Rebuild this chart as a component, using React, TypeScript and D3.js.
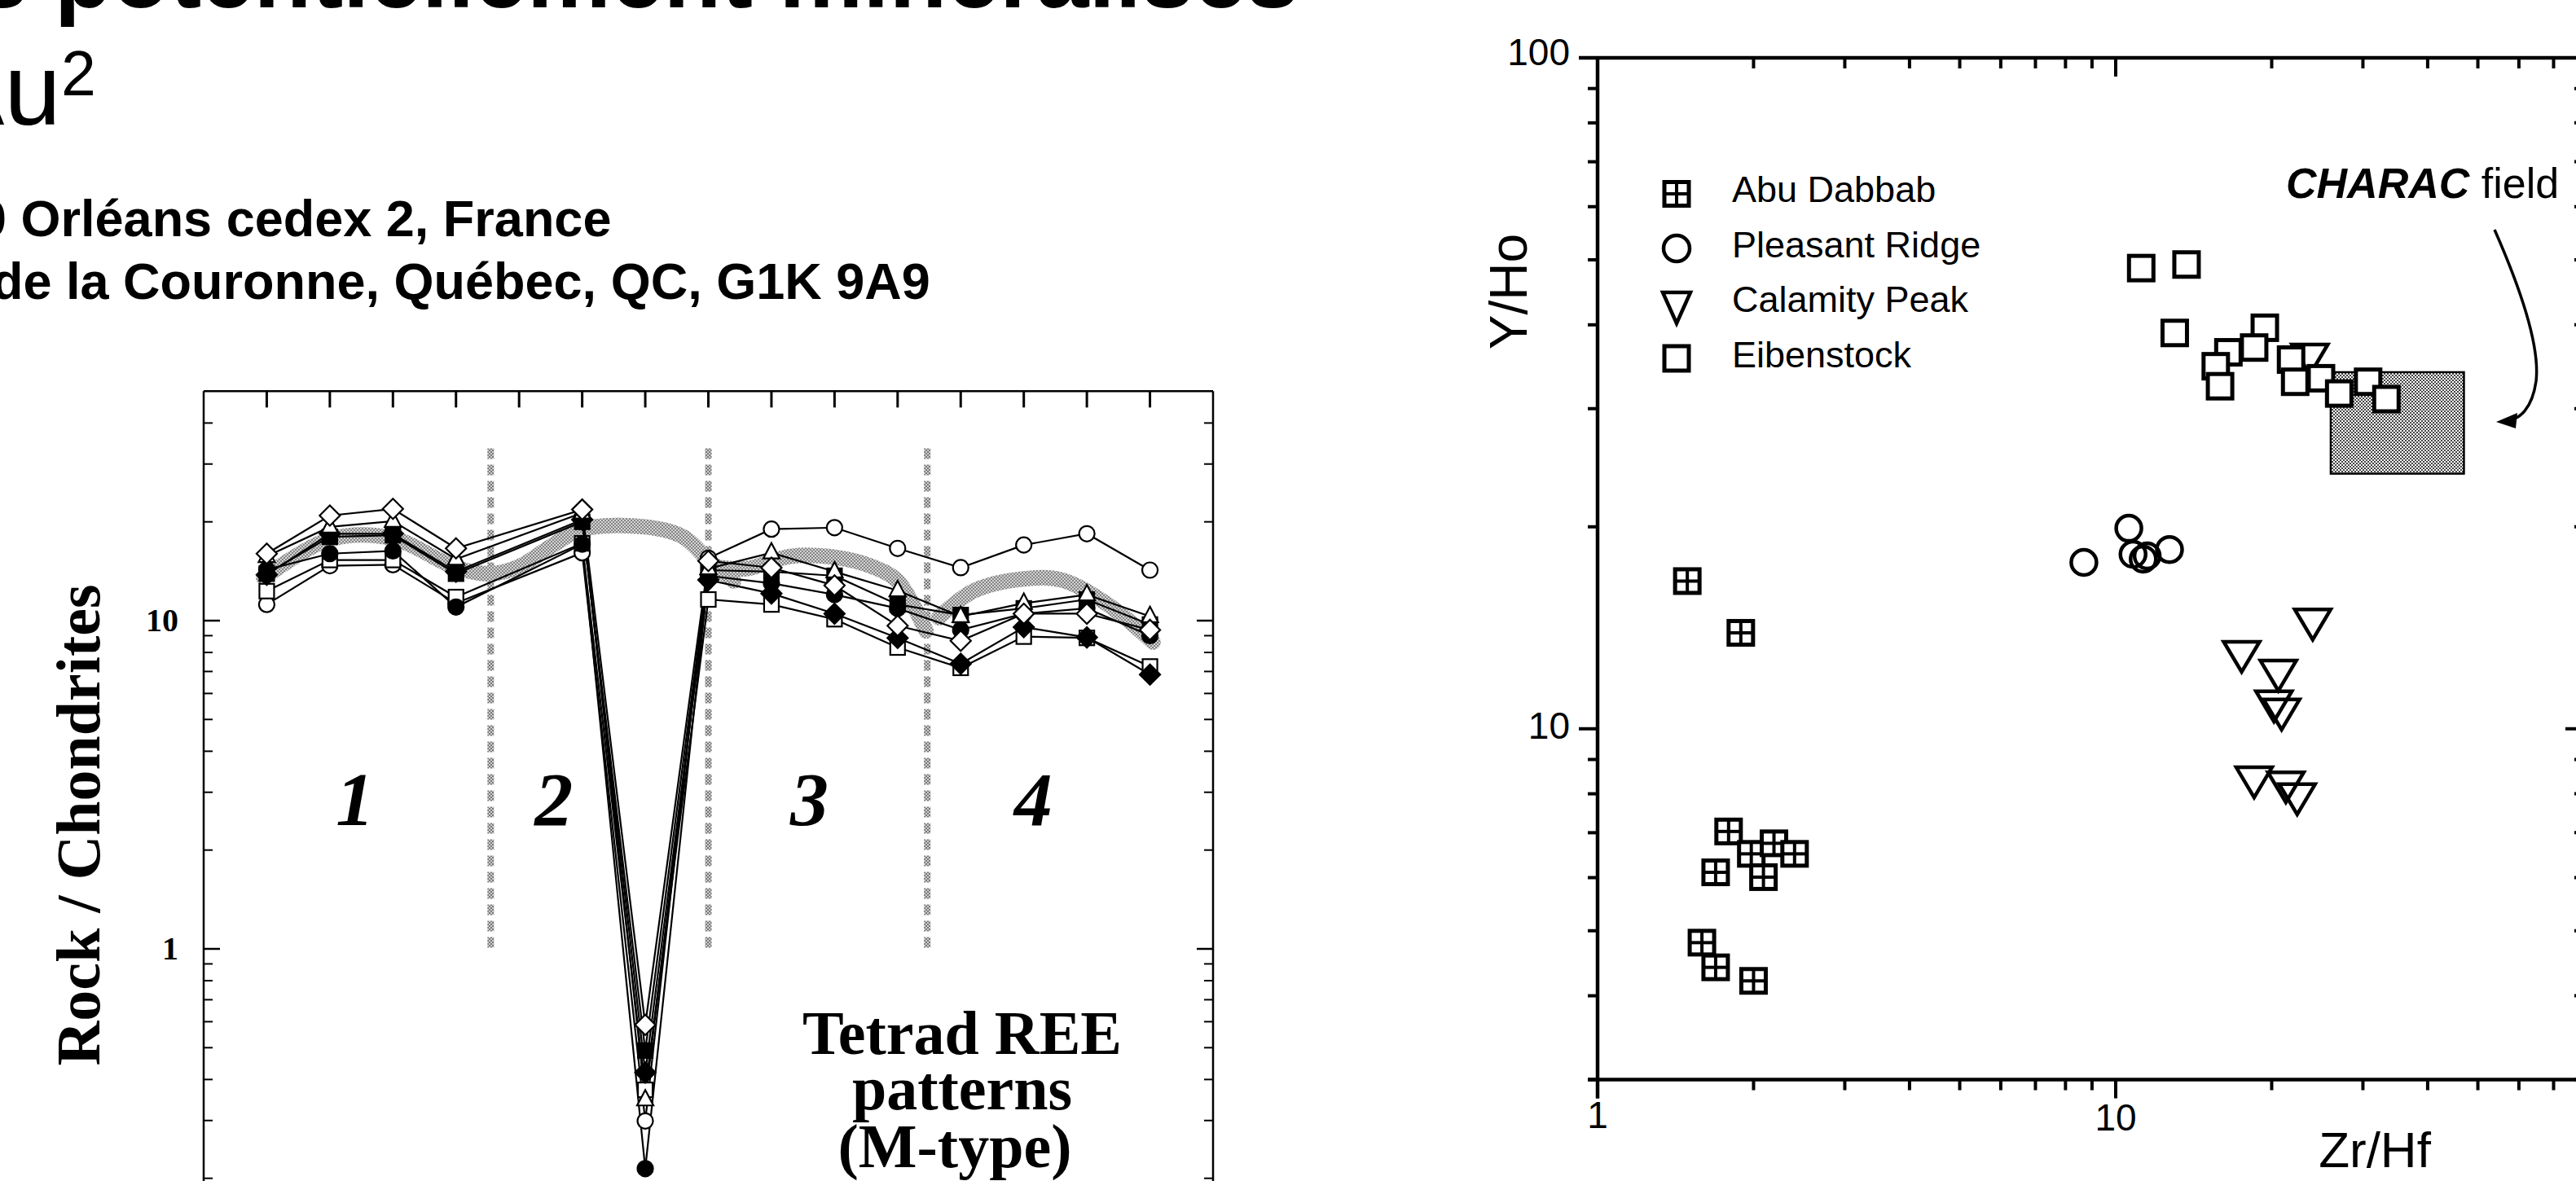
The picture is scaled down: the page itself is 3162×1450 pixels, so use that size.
import React from "react";
import * as d3 from "d3";

// ---------------- Left chart data (REE / chondrite) ----------------
const REE = ["La", "Ce", "Pr", "Nd", "Pm", "Sm", "Eu", "Gd", "Tb", "Dy", "Ho", "Er", "Tm", "Yb", "Lu"];
const openDiamond = [16.0, 20.9, 21.9, 16.6, null, 21.8, 0.587, 15.2, 14.5, 12.8, 9.65, 8.68, 10.5, 10.5, 9.37];
const openTriangle = [15.7, 19.3, 20.1, 15.4, null, 21.3, 0.347, 14.4, 16.1, 14.1, 12.35, 10.3, 11.3, 12.0, 10.3];
const filledDiamond = [13.8, 18.4, 18.4, 14.1, null, 20.3, 0.42, 13.3, 12.1, 10.5, 8.86, 7.39, 9.55, 8.89, 6.85];
const filledCircle = [14.3, 16.0, 16.3, 11.0, null, 17.1, 0.214, 13.7, 13.0, 12.0, 10.9, 9.37, 10.5, 10.9, 9.0];
const filledSquare = [13.9, 18.0, 18.2, 13.9, null, 20.0, 0.49, 14.25, 14.1, 13.7, 11.2, 10.4, 10.9, 11.6, 9.73];
const openSquare = [12.3, 15.3, 15.3, 11.8, null, 17.2, 0.372, 11.6, 11.2, 10.1, 8.28, 7.18, 8.94, 8.86, 7.25];
const openCircle = [11.2, 14.7, 14.8, 11.3, null, 16.1, 0.299, 15.5, 19.0, 19.2, 16.6, 14.5, 17.0, 18.4, 14.25];

// grey tetrad curves (REE index, value)
const tetradBand1 = [[-0.05, 13.5], [1, 17.7], [2, 17.8], [3, 14.5], [3.55, 13.9], [4.0, 14.6], [4.5, 16.8], [5, 19.0], [6, 19.3], [6.6, 18.0], [7, 15.3], [7.4, 13.2]];
const tetradBand3 = [[7.1, 14.6], [7.6, 14.4], [8.3, 15.7], [9.0, 15.6], [9.6, 14.6], [10.0, 13.2], [10.45, 9.3]];
const tetradBand4 = [[10.65, 10.2], [11.2, 12.3], [12.0, 13.4], [12.6, 13.3], [13.3, 11.3], [14.05, 8.6]];
const tetradBoundaries = [3.55, 7.0, 10.47];
const tetradLabels = ["1", "2", "3", "4"];
const tetradLabelPos = [1.4, 4.55, 8.6, 12.15];
const leftMajorTicks = [1, 10];
const leftMinorTicks = [0.2, 0.3, 0.4, 0.5, 0.6, 0.7, 0.8, 0.9, 2, 3, 4, 5, 6, 7, 8, 9, 20, 30, 40];

// ---------------- Right chart data (Zr/Hf vs Y/Ho) ----------------
const abuDabbab = [[1.49, 16.6], [1.89, 13.9], [1.79, 7.03], [1.98, 6.51], [2.19, 6.75], [2.40, 6.51], [1.69, 6.11], [2.09, 6.01], [1.59, 4.80], [1.69, 4.41], [2.00, 4.21]];
const pleasantRidge = [[8.68, 17.7], [10.6, 19.9], [10.8, 18.2], [11.5, 18.1], [11.3, 17.9], [12.7, 18.5]];
const calamityPeak = [[23.7, 35.5], [24.0, 14.3], [17.5, 12.8], [20.6, 12.0], [20.2, 10.8], [20.9, 10.5], [18.5, 8.32], [21.3, 8.18], [22.4, 7.85]];
const eibenstock = [[11.2, 48.6], [13.7, 49.2], [13.0, 38.9], [19.4, 39.6], [18.5, 37.0], [16.5, 36.4], [15.6, 34.7], [15.9, 32.4], [21.8, 35.5], [22.2, 32.9], [24.9, 33.3], [27.0, 31.6], [30.7, 32.9], [33.3, 31.0]];
const characZrHf = [26, 47];
const characYHo = [24, 34];
const legendNames = ["Abu Dabbab", "Pleasant Ridge", "Calamity Peak", "Eibenstock"];
const rightXTicks = [1, 2, 3, 4, 5, 6, 7, 8, 9, 10, 20, 30, 40, 50, 60, 70];
const rightYTicks = [3, 4, 5, 6, 7, 8, 9, 10, 20, 30, 40, 50, 60, 70, 80, 90, 100];
const rightMajor = [1, 10, 100];

const SANS = "'Liberation Sans', Arial, sans-serif";
const SERIF = "'Liberation Serif', 'Times New Roman', serif";

function LeftMarker({ kind, x, y }: { kind: string; x: number; y: number }) {
  const sw = 2.2;
  switch (kind) {
    case "oc":
      return <circle cx={x} cy={y} r={9.5} fill="#fff" stroke="#000" strokeWidth={sw} />;
    case "fc":
      return <circle cx={x} cy={y} r={9.5} fill="#000" stroke="#000" strokeWidth={sw} />;
    case "os":
      return <rect x={x - 9} y={y - 9} width={18} height={18} fill="#fff" stroke="#000" strokeWidth={sw} />;
    case "fs":
      return <rect x={x - 9} y={y - 9} width={18} height={18} fill="#000" stroke="#000" strokeWidth={sw} />;
    case "ot":
      return <polygon points={`${x},${y - 12} ${x + 10},${y + 7} ${x - 10},${y + 7}`} fill="#fff" stroke="#000" strokeWidth={sw} />;
    case "od":
      return <polygon points={`${x},${y - 12.5} ${x + 12.5},${y} ${x},${y + 12.5} ${x - 12.5},${y}`} fill="#fff" stroke="#000" strokeWidth={sw} />;
    default:
      return <polygon points={`${x},${y - 12.5} ${x + 12.5},${y} ${x},${y + 12.5} ${x - 12.5},${y}`} fill="#000" stroke="#000" strokeWidth={sw} />;
  }
}

export default function App() {
  // Left chart scales
  const lx = d3.scaleLinear().domain([-1, 15]).range([250, 1489]);
  const ly = d3.scaleLog().domain([1, 10]).range([1165, 762]);
  const lTop = ly(50);
  const lLeft = lx(-1);
  const lRight = lx(15);

  const series: { kind: string; vals: (number | null)[] }[] = [
    { kind: "oc", vals: openCircle },
    { kind: "os", vals: openSquare },
    { kind: "fc", vals: filledCircle },
    { kind: "fs", vals: filledSquare },
    { kind: "fd", vals: filledDiamond },
    { kind: "ot", vals: openTriangle },
    { kind: "od", vals: openDiamond },
  ];
  const lineGen = d3
    .line<[number, number]>()
    .x((d) => lx(d[0]))
    .y((d) => ly(d[1]));
  const bandGen = d3
    .line<number[]>()
    .x((d) => lx(d[0]))
    .y((d) => ly(d[1]))
    .curve(d3.curveCatmullRom.alpha(0.5));

  // Right chart scales
  const rx = d3.scaleLog().domain([1, 10]).range([1961, 2597]);
  const ry = d3.scaleLog().domain([3, 100]).range([1325.5, 71]);
  const rLeft = rx(1);
  const rRight = 3172;
  const rTop = ry(100);
  const rBottom = ry(3);

  const cx0 = rx(characZrHf[0]);
  const cx1 = rx(characZrHf[1]);
  const cy0 = ry(characYHo[1]);
  const cy1 = ry(characYHo[0]);

  const legendX = 2058;
  const legendY = [238, 305, 372, 440];

  const abuMarker = (x: number, y: number, k: string) => (
    <g key={k}>
      <rect x={x - 15} y={y - 14.5} width={30} height={29} fill="#fff" stroke="#000" strokeWidth={5} />
      <line x1={x} x2={x} y1={y - 14.5} y2={y + 14.5} stroke="#000" strokeWidth={4} />
      <line x1={x - 15} x2={x + 15} y1={y} y2={y} stroke="#000" strokeWidth={4} />
    </g>
  );
  const triMarker = (x: number, y: number, k: string, w = 44, h = 37) => (
    <polygon key={k} points={`${x - w / 2},${y - h / 2} ${x + w / 2},${y - h / 2} ${x},${y + h / 2}`} fill="none" stroke="#000" strokeWidth={4.5} strokeLinejoin="miter" />
  );
  const sqMarker = (x: number, y: number, k: string) => (
    <rect key={k} x={x - 15} y={y - 15} width={30} height={30} fill="#fff" stroke="#000" strokeWidth={5} />
  );
  const circMarker = (x: number, y: number, k: string) => (
    <circle key={k} cx={x} cy={y} r={15.5} fill="none" stroke="#000" strokeWidth={4.5} />
  );

  return (
    <div style={{ position: "fixed", left: 0, top: 0, width: 3162, height: 1450, background: "#fff" }}>
      <svg width={3162} height={1450} viewBox="0 0 3162 1450" style={{ display: "block" }}>
        <defs>
          <pattern id="stip" width={4} height={4} patternUnits="userSpaceOnUse">
            <rect width={4} height={4} fill="#d4d4d4" />
            <rect width={2} height={2} fill="#858585" />
            <rect x={2} y={2} width={2} height={2} fill="#858585" />
          </pattern>
          <pattern id="stipDark" width={4} height={4} patternUnits="userSpaceOnUse">
            <rect width={4} height={4} fill="#cfcfcf" />
            <rect width={2} height={2} fill="#777" />
            <rect x={2} y={2} width={2} height={2} fill="#777" />
          </pattern>
          <pattern id="charac" width={4} height={4} patternUnits="userSpaceOnUse">
            <rect width={4} height={4} fill="#ffffff" />
            <rect width={2} height={2} fill="#444" />
            <rect x={2} y={2} width={2} height={2} fill="#444" />
          </pattern>
        </defs>
        <rect width={3162} height={1450} fill="#fff" />

        {/* ---------- Title texts (cropped slide) ---------- */}
        <text x={-30} y={9} fontFamily={SANS} fontWeight="bold" fontSize={116} fill="#000">
          s potentiellement minéralisés
        </text>
        <text x={-78} y={153} fontFamily={SANS} fontSize={125} fill="#000">
          Au
          <tspan fontSize={77} dy={-36}>2</tspan>
        </text>
        <text x={-27} y={290} fontFamily={SANS} fontWeight="bold" fontSize={63} fill="#000">
          0 Orléans cedex 2, France
        </text>
        <text x={-10} y={367} fontFamily={SANS} fontWeight="bold" fontSize={63} fill="#000">
          de la Couronne, Québec, QC, G1K 9A9
        </text>

        {/* ---------- Left chart ---------- */}
        <g>
          {/* tetrad boundary dotted lines */}
          {tetradBoundaries.map((b, i) => (
            <line key={"tb" + i} x1={lx(b)} x2={lx(b)} y1={ly(33.5)} y2={ly(1.0)} stroke="url(#stipDark)" strokeWidth={8} strokeDasharray="13 7" />
          ))}
          {/* grey tetrad curves */}
          {[tetradBand1, tetradBand3, tetradBand4].map((b, i) => (
            <path key={"band" + i} d={bandGen(b) || ""} fill="none" stroke="url(#stip)" strokeWidth={19} strokeLinecap="round" />
          ))}
          {/* series lines */}
          {series.map((s, si) => {
            const pts = s.vals.map((v, i) => [i, v] as [number, number | null]).filter((p) => p[1] != null) as [number, number][];
            return <path key={"ln" + si} d={lineGen(pts) || ""} fill="none" stroke="#000" strokeWidth={2.2} />;
          })}
          {/* markers */}
          {series.map((s, si) =>
            s.vals.map((v, i) =>
              v == null ? null : <LeftMarker key={`m${si}-${i}`} kind={s.kind} x={lx(i)} y={ly(v)} />
            )
          )}
          {/* frame */}
          <line x1={lLeft} x2={lLeft} y1={lTop} y2={1460} stroke="#000" strokeWidth={2.5} />
          <line x1={lRight} x2={lRight} y1={lTop} y2={1460} stroke="#000" strokeWidth={2.5} />
          <line x1={lLeft} x2={lRight} y1={lTop} y2={lTop} stroke="#000" strokeWidth={2.5} />
          {/* top category ticks */}
          {REE.map((r, i) => (
            <line key={"tt" + r} x1={lx(i)} x2={lx(i)} y1={lTop} y2={lTop + 20} stroke="#000" strokeWidth={3} />
          ))}
          {/* y ticks */}
          {leftMajorTicks.map((t) => (
            <g key={"lmj" + t}>
              <line x1={lLeft} x2={lLeft + 20} y1={ly(t)} y2={ly(t)} stroke="#000" strokeWidth={2.5} />
              <line x1={lRight} x2={lRight - 20} y1={ly(t)} y2={ly(t)} stroke="#000" strokeWidth={2.5} />
              <text x={219} y={ly(t) + 13} textAnchor="end" fontFamily={SERIF} fontWeight="bold" fontSize={40} fill="#000">
                {t}
              </text>
            </g>
          ))}
          {leftMinorTicks.map((t) => (
            <g key={"lmn" + t}>
              <line x1={lLeft} x2={lLeft + 11} y1={ly(t)} y2={ly(t)} stroke="#000" strokeWidth={2} />
              <line x1={lRight} x2={lRight - 11} y1={ly(t)} y2={ly(t)} stroke="#000" strokeWidth={2} />
            </g>
          ))}
          <text transform="translate(122,1013) rotate(-90)" textAnchor="middle" fontFamily={SERIF} fontWeight="bold" fontSize={76} fill="#000">
            Rock / Chondrites
          </text>
          {tetradLabels.map((t, i) => (
            <text key={"tl" + t} x={lx(tetradLabelPos[i])} y={1013} textAnchor="middle" fontFamily={SERIF} fontWeight="bold" fontStyle="italic" fontSize={94} fill="#000">
              {t}
            </text>
          ))}
          <text x={1181} textAnchor="middle" fontFamily={SERIF} fontWeight="bold" fontSize={76} fill="#000">
            <tspan x={1181} y={1294}>Tetrad REE</tspan>
            <tspan x={1181} y={1362}>patterns</tspan>
            <tspan x={1172} y={1433}>(M-type)</tspan>
          </text>
        </g>

        {/* ---------- Right chart ---------- */}
        <g>
          {/* CHARAC field */}
          <rect x={cx0} y={cy0} width={cx1 - cx0} height={cy1 - cy0} fill="url(#charac)" stroke="#000" strokeWidth={2.5} />
          {/* arrow */}
          <path d="M3062,282 C3092,350 3118,425 3113,468 C3108,503 3092,514 3080,516" fill="none" stroke="#000" strokeWidth={3.5} />
          <polygon points="3064,518 3090,507 3088,526" fill="#000" />
          <text x={2806} y={243} fontFamily={SANS} fontSize={52} fill="#000">
            <tspan fontWeight="bold" fontStyle="italic">CHARAC</tspan>
            <tspan> field</tspan>
          </text>

          {/* data */}
          {abuDabbab.map((d, i) => abuMarker(rx(d[0]), ry(d[1]), "ab" + i))}
          {pleasantRidge.map((d, i) => circMarker(rx(d[0]), ry(d[1]), "pr" + i))}
          {calamityPeak.map((d, i) => triMarker(rx(d[0]), ry(d[1]), "cp" + i))}
          {eibenstock.map((d, i) => sqMarker(rx(d[0]), ry(d[1]), "eb" + i))}

          {/* axes */}
          <line x1={rLeft} x2={rLeft} y1={rTop - 2} y2={rBottom + 23} stroke="#000" strokeWidth={4.5} />
          <line x1={rLeft - 23} x2={rRight} y1={rTop} y2={rTop} stroke="#000" strokeWidth={4.5} />
          <line x1={rLeft - 12} x2={rRight} y1={rBottom} y2={rBottom} stroke="#000" strokeWidth={4.5} />
          <line x1={rRight} x2={rRight} y1={rTop} y2={rBottom} stroke="#000" strokeWidth={4.5} />
          {rightXTicks.map((t) => {
            const len = rightMajor.includes(t) ? 23 : 13;
            const x = rx(t);
            return (
              <g key={"rxt" + t}>
                <line x1={x} x2={x} y1={rBottom} y2={rBottom + len} stroke="#000" strokeWidth={4} />
                <line x1={x} x2={x} y1={rTop} y2={rTop + len} stroke="#000" strokeWidth={4} />
              </g>
            );
          })}
          {rightYTicks.map((t) => {
            const len = rightMajor.includes(t) ? 23 : 12;
            const y = ry(t);
            return (
              <g key={"ryt" + t}>
                <line x1={rLeft} x2={rLeft - len} y1={y} y2={y} stroke="#000" strokeWidth={4} />
                <line x1={rRight} x2={rRight - len} y1={y} y2={y} stroke="#000" strokeWidth={4} />
              </g>
            );
          })}
          {/* tick labels */}
          <text x={1927} y={ry(100) + 9} textAnchor="end" fontFamily={SANS} fontSize={46} fill="#000">100</text>
          <text x={1927} y={ry(10) + 12} textAnchor="end" fontFamily={SANS} fontSize={46} fill="#000">10</text>
          <text x={rx(1)} y={1385} textAnchor="middle" fontFamily={SANS} fontSize={46} fill="#000">1</text>
          <text x={rx(10)} y={1388} textAnchor="middle" fontFamily={SANS} fontSize={46} fill="#000">10</text>
          <text x={2915} y={1433} textAnchor="middle" fontFamily={SANS} fontSize={62} fill="#000">Zr/Hf</text>
          <text transform="translate(1874,358) rotate(-90)" textAnchor="middle" fontFamily={SANS} fontSize={64} fill="#000">Y/Ho</text>

          {/* legend */}
          {abuMarker(legendX, legendY[0], "lg0")}
          <circle cx={legendX} cy={legendY[1]} r={16} fill="none" stroke="#000" strokeWidth={4.5} />
          {triMarker(legendX, legendY[2] + 6, "lg2", 34, 38)}
          {sqMarker(legendX, legendY[3], "lg3")}
          {legendNames.map((n, i) => (
            <text key={"ln" + n} x={2126} y={legendY[i] + 11 + (i === 0 ? -1 : 0)} fontFamily={SANS} fontSize={45} fill="#000">
              {n}
            </text>
          ))}
        </g>
      </svg>
    </div>
  );
}
